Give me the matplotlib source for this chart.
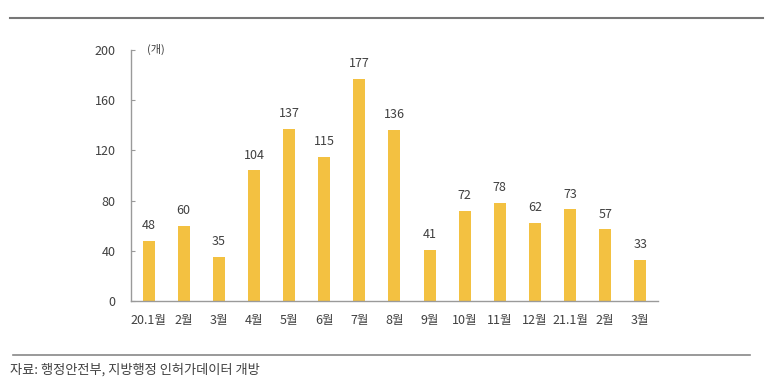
import matplotlib.pyplot as plt
from matplotlib.lines import Line2D

plt.rcParams['font.family'] = ['Noto Sans CJK KR', 'DejaVu Sans']

# data
months = ['20.1월', '2월', '3월', '4월', '5월', '6월', '7월', '8월',
          '9월', '10월', '11월', '12월', '21.1월', '2월', '3월']
counts = [48, 60, 35, 104, 137, 115, 177, 136, 41, 72, 78, 62, 73, 57, 33]
yticks = [0, 40, 80, 120, 160, 200]

bar_color = '#F3C141'
text_color = '#404040'
line_color = '#9A9A9A'

fig = plt.figure(figsize=(7.68, 3.84), dpi=100)
ax = fig.add_axes([0.1706, 0.216, 0.686, 0.654])

x = range(len(counts))
ax.bar(x, counts, width=0.34, color=bar_color)
for i, v in zip(x, counts):
    ax.text(i, v + 7, str(v), ha='center', va='bottom', fontsize=9, color=text_color)

ax.set_xlim(-0.5, len(counts) - 0.5)
ax.set_ylim(0, 200)
ax.set_yticks(yticks)
ax.set_xticks(list(x))
ax.set_xticklabels(months)

for s in ['top', 'right']:
    ax.spines[s].set_visible(False)
for s in ['left', 'bottom']:
    ax.spines[s].set_color(line_color)
    ax.spines[s].set_linewidth(1)

ax.tick_params(axis='y', direction='in', length=3, color=line_color,
               labelsize=9, labelcolor=text_color, pad=11)
ax.tick_params(axis='x', length=0, labelsize=9, labelcolor=text_color, pad=9)

ax.text(0.03, 1.0, '(개)', transform=ax.transAxes, fontsize=8,
        color=text_color, va='center', ha='left')

# frame lines top and bottom of the figure
fig.add_artist(Line2D([0.013, 0.994], [1 - 18 / 384, 1 - 18 / 384],
                      color='#777777', linewidth=1.5, transform=fig.transFigure))
fig.add_artist(Line2D([0.017, 0.977], [1 - 355 / 384, 1 - 355 / 384],
                      color='#888888', linewidth=1.2, transform=fig.transFigure))

fig.text(0.013, 1 - 370 / 384, '자료: 행정안전부, 지방행정 인허가데이터 개방',
         fontsize=9.5, color=text_color, va='center', ha='left')

fig.savefig('out.png', dpi=100, facecolor='white')
